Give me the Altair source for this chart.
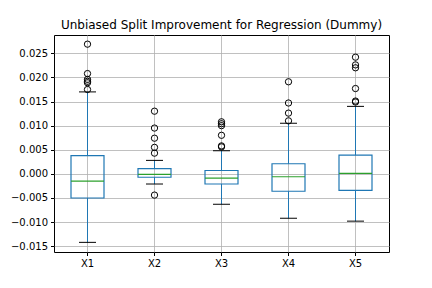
import altair as alt
import pandas as pd

categories = ["X1", "X2", "X3", "X4", "X5"]
q1 = [-0.0050, -0.0007, -0.0021, -0.0036, -0.0034]
median = [-0.0015, -0.0001, -0.0009, -0.0006, 0.0001]
q3 = [0.0038, 0.0011, 0.0007, 0.0021, 0.0039]
whisker_lo = [-0.0142, -0.0021, -0.0063, -0.0092, -0.0098]
whisker_hi = [0.0170, 0.0028, 0.0048, 0.0105, 0.0140]

outliers = {
    "X1": [0.0269, 0.0208, 0.0196, 0.0192, 0.0189, 0.0175],
    "X2": [0.0130, 0.0095, 0.0074, 0.0055, 0.0043, -0.0044],
    "X3": [0.0108, 0.0104, 0.0100, 0.0080, 0.0058, 0.0056],
    "X4": [0.0191, 0.0147, 0.0126, 0.0110],
    "X5": [0.0242, 0.0226, 0.0220, 0.0177, 0.0151, 0.0149],
}

y_ticks = [-0.015, -0.010, -0.005, 0.000, 0.005, 0.010, 0.015, 0.020, 0.025]

stats = pd.DataFrame({
    "cat": categories, "q1": q1, "med": median, "q3": q3,
    "lo": whisker_lo, "hi": whisker_hi,
})
out_df = pd.DataFrame(
    [{"cat": k, "v": v} for k, vals in outliers.items() for v in vals]
)

BLUE = "#1f77b4"
GREEN = "#2ca02c"

x_enc = alt.X("cat:N", sort=categories, title=None,
              scale=alt.Scale(paddingInner=0, paddingOuter=0),
              axis=alt.Axis(labelAngle=0, bandPosition=0.5, grid=True,
                            gridColor="#b0b0b0", gridWidth=0.8,
                            tickColor="black", tickSize=3.5, labelPadding=3,
                            labelFont="DejaVu Sans", labelFontSize=10,
                            labelColor="black", domain=False))
yscale = alt.Scale(domain=[-0.0162, 0.0288], nice=False, zero=False)
y_axis = alt.Axis(values=y_ticks, format=".3f", grid=True, gridColor="#b0b0b0",
                  gridWidth=0.8, tickColor="black", tickSize=3.5, labelPadding=3,
                  labelFont="DejaVu Sans", labelFontSize=10, labelColor="black",
                  labelOverlap=False, labelBound=False, labelFlush=False,
                  domain=False)


def Y(field):
    return alt.Y(field, scale=yscale, axis=y_axis, title=None)


base = alt.Chart(stats)

whisk_up = base.mark_rule(color=BLUE, strokeWidth=1).encode(
    x=x_enc, y=Y("q3:Q"), y2="hi:Q")
whisk_dn = base.mark_rule(color=BLUE, strokeWidth=1).encode(
    x=x_enc, y=Y("lo:Q"), y2="q1:Q")
box = base.mark_bar(size=33, fill="white", fillOpacity=0, stroke=BLUE,
                    strokeWidth=1.2).encode(
    x=x_enc, y=Y("q1:Q"), y2="q3:Q")
cap_hi = base.mark_tick(color="black", size=17, thickness=1, opacity=1).encode(
    x=x_enc, y=Y("hi:Q"))
cap_lo = base.mark_tick(color="black", size=17, thickness=1, opacity=1).encode(
    x=x_enc, y=Y("lo:Q"))
med = base.mark_tick(color=GREEN, size=33, thickness=1.2, opacity=1).encode(
    x=x_enc, y=Y("med:Q"))
pts = alt.Chart(out_df).mark_point(shape="circle", filled=False, color="black",
                                   size=40, strokeWidth=1, opacity=1).encode(
    x=x_enc, y=Y("v:Q"))

chart = alt.layer(whisk_up, whisk_dn, box, cap_hi, cap_lo, med, pts).properties(
    width=335, height=217,
    title=alt.TitleParams("Unbiased Split Improvement for Regression (Dummy)",
                          font="DejaVu Sans", fontSize=12, fontWeight="normal",
                          color="black", anchor="middle", offset=3),
    autosize=alt.AutoSizeParams(type="none"),
    padding={"left": 46, "top": 27, "right": 35, "bottom": 28},
).configure_view(stroke="black", strokeWidth=1)

chart.save("out.html", embed_options={"renderer": "svg", "actions": False})
